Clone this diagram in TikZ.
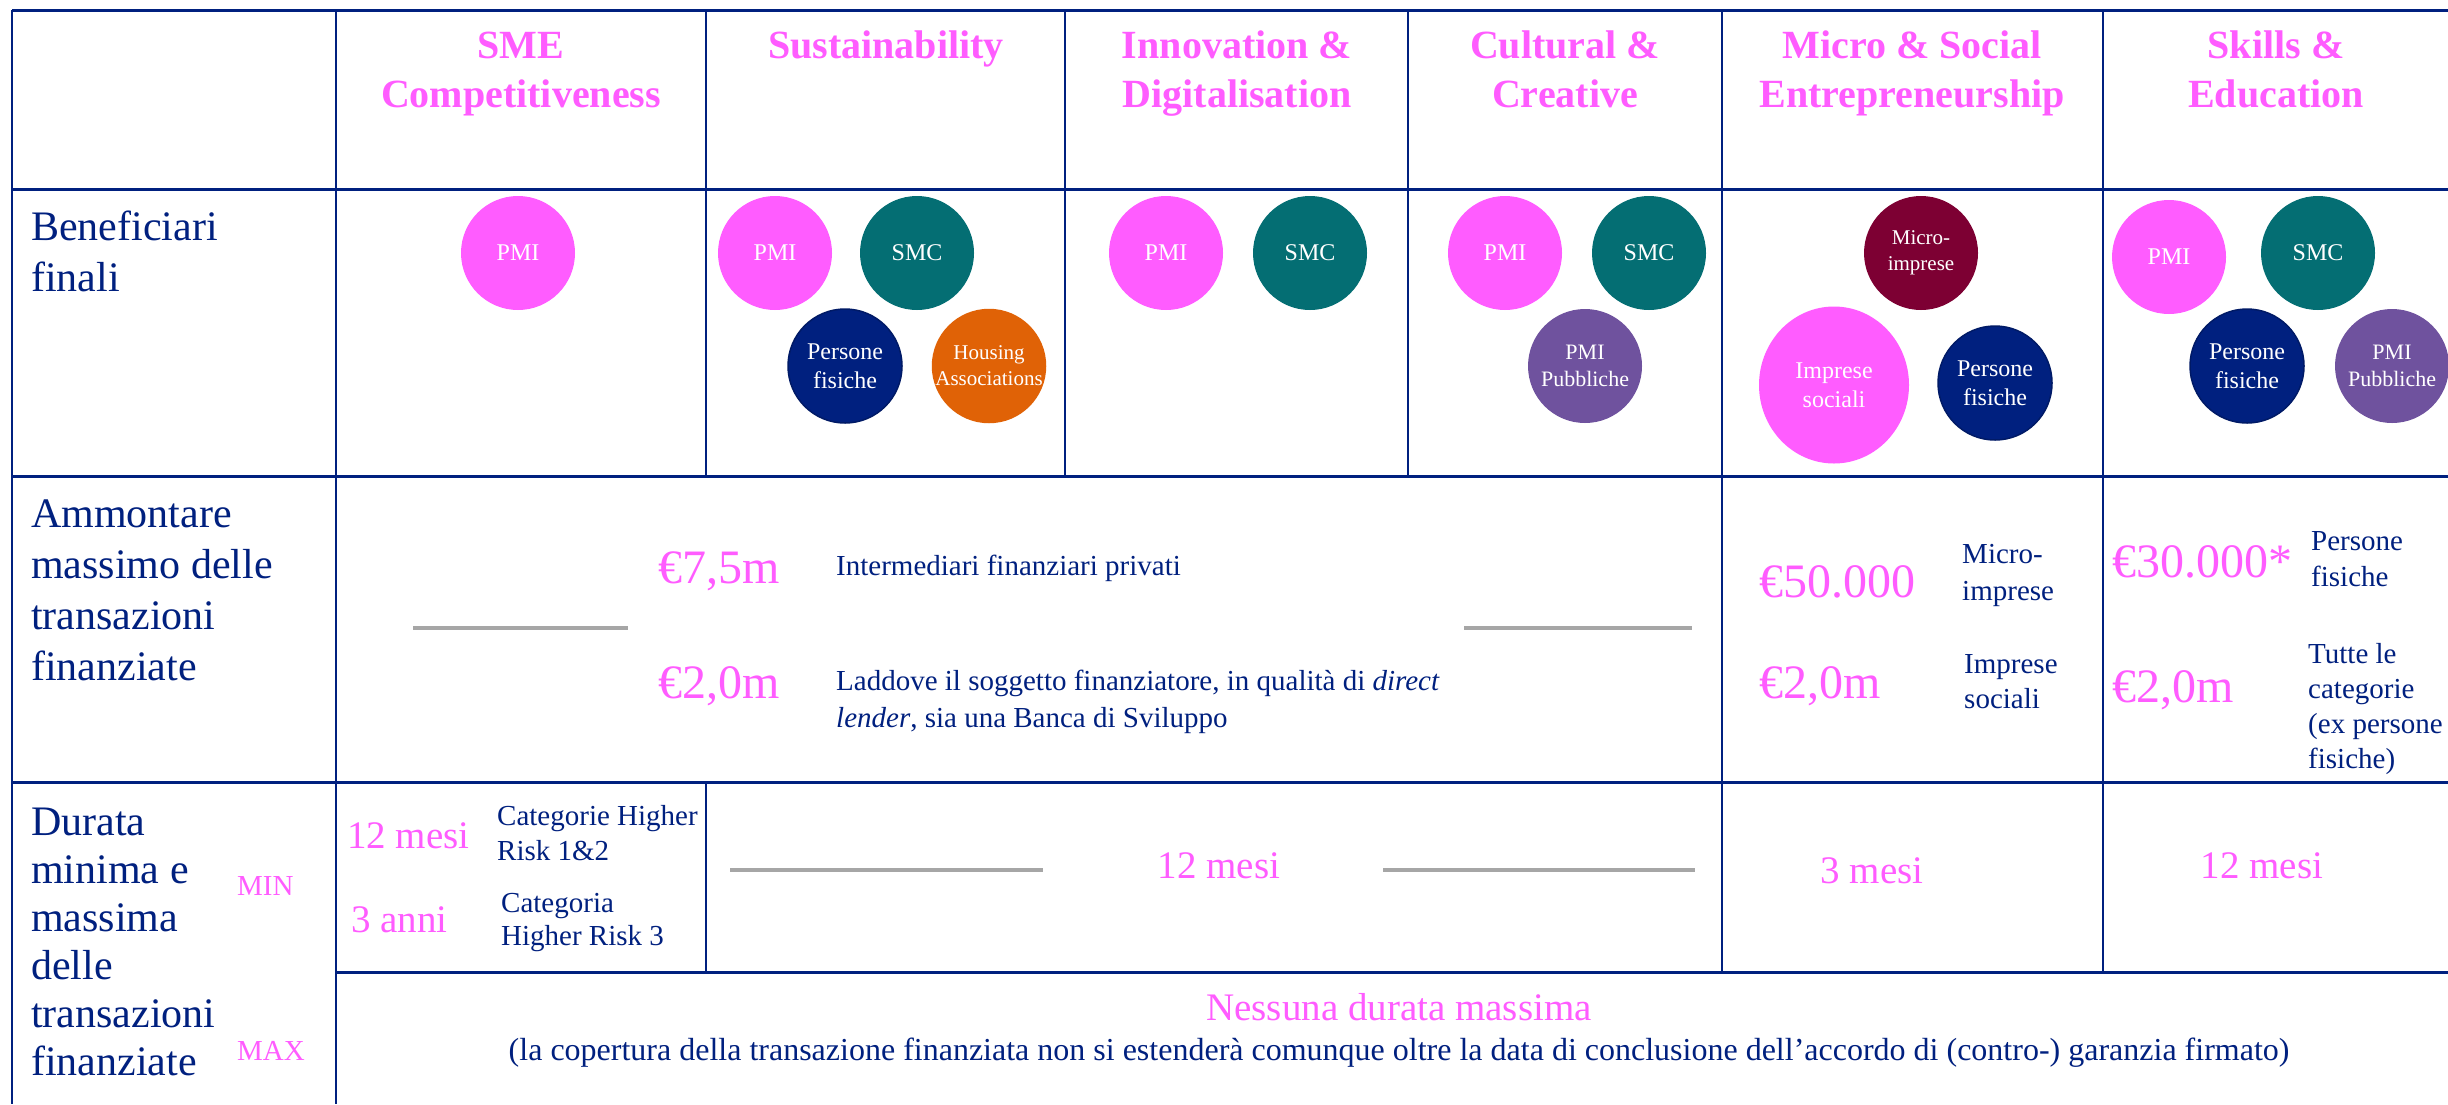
\documentclass[tikz,border=0pt]{standalone}
\usepackage{fontspec}
\setmainfont{Liberation Serif}
\usetikzlibrary{shapes.geometric}
\definecolor{navy}{HTML}{00207F}
\definecolor{navyd}{HTML}{001A66}
\definecolor{pinkc}{HTML}{FF5CFF}
\definecolor{tealc}{HTML}{046E73}
\definecolor{orangec}{HTML}{E06206}
\definecolor{purplec}{HTML}{6F529E}
\definecolor{maroonc}{HTML}{7D0033}
\definecolor{grayc}{HTML}{A6A6A6}
\tikzset{
  hline/.style={draw=navy,line width=3pt},
  vline/.style={draw=navy,line width=2.5pt},
  hdr/.style={text=pinkc,font=\fontsize{40}{49}\selectfont\bfseries,align=center,anchor=base,inner sep=0},
  lbl/.style={text=navy,font=\fontsize{42}{51}\selectfont,align=left,anchor=base west,inner sep=0},
  bub/.style={circle,minimum size=114pt,inner sep=0,text=white,align=center,font=\fontsize{24}{29}\selectfont},
  amt/.style={text=pinkc,font=\fontsize{48}{56}\selectfont,anchor=base west,inner sep=0},
  sm/.style={text=navy,font=\fontsize{29}{37}\selectfont,align=left,anchor=base west,inner sep=0},
  mid/.style={text=pinkc,font=\fontsize{39}{46}\selectfont,inner sep=0},
  tag/.style={text=pinkc,font=\fontsize{29}{35}\selectfont,anchor=base west,inner sep=0},
  dashbar/.style={draw=grayc,line width=4pt},
}
\begin{document}
\begin{tikzpicture}[x=1pt,y=-1pt]
\useasboundingbox[fill=white] (0,0) rectangle (2448,1104);
% grid
\draw[hline] (12,10) -- (2448,10);
\draw[hline] (12,189) -- (2448,189);
\draw[hline] (12,476) -- (2448,476);
\draw[hline] (12,782) -- (2448,782);
\draw[hline] (336,972) -- (2448,972);
\draw[vline] (12,10) -- (12,1104);
\draw[vline] (336,10) -- (336,1104);
\draw[vline] (706,10) -- (706,476);
\draw[vline] (706,782) -- (706,972);
\draw[vline] (1065,10) -- (1065,476);
\draw[vline] (1408,10) -- (1408,476);
\draw[vline] (1722,10) -- (1722,972);
\draw[vline] (2103,10) -- (2103,972);
% headers (base = last line baseline)
\node[hdr] (h1) at (521,107) {SME\\Competitiveness};
\node[hdr] (h2) at (886,58) {Sustainability};
\node[hdr] (h3) at (1237,107) {Innovation \&\\Digitalisation};
\node[hdr] (h4) at (1565,107) {Cultural \&\\Creative};
\node[hdr] (h5) at (1912,107) {Micro \& Social\\Entrepreneurship};
\node[hdr] (h6) at (2276,107) {Skills \&\\Education};
% row labels
\node[lbl] (r1) at (31,291) {Beneficiari\\finali};
\node[lbl] (r2) at (31,680) {Ammontare\\massimo delle\\transazioni\\finanziate};
\node[lbl,font=\fontsize{42}{48}\selectfont] (r3) at (31,1075) {Durata\\minima e\\massima\\delle\\transazioni\\finanziate};
\node[tag] (tmin) at (237,895) {MIN};
\node[tag] (tmax) at (237,1060) {MAX};
% beneficiaries
\node[bub,fill=pinkc] (b11) at (518,253) {PMI};
\node[bub,fill=pinkc] (b21) at (775,253) {PMI};
\node[bub,fill=tealc] (b22) at (917,253) {SMC};
\node[bub,fill=navy,draw=navyd,line width=1.5pt] (b23) at (845,366) {Persone\\fisiche};
\node[bub,fill=orangec,font=\fontsize{21}{26}\selectfont] (b24) at (989,366) {Housing\\Associations};
\node[bub,fill=pinkc] (b31) at (1166,253) {PMI};
\node[bub,fill=tealc] (b32) at (1310,253) {SMC};
\node[bub,fill=pinkc] (b41) at (1505,253) {PMI};
\node[bub,fill=tealc] (b42) at (1649,253) {SMC};
\node[bub,fill=purplec,font=\fontsize{22}{27}\selectfont] (b43) at (1585,366) {PMI\\Pubbliche};
\node[bub,fill=maroonc,font=\fontsize{21}{26}\selectfont] (b51) at (1921,253) {Micro-\\imprese};
\node[ellipse,minimum width=150pt,minimum height=157pt,inner sep=0,fill=pinkc,text=white,align=center,font=\fontsize{24}{29}\selectfont] (b52) at (1834,385) {Imprese\\sociali};
\node[bub,fill=navy,draw=navyd,line width=1.5pt] (b53) at (1995,383) {Persone\\fisiche};
\node[bub,fill=pinkc] (b61) at (2169,257) {PMI};
\node[bub,fill=tealc] (b62) at (2318,253) {SMC};
\node[bub,fill=navy,draw=navyd,line width=1.5pt] (b63) at (2247,366) {Persone\\fisiche};
\node[bub,fill=purplec,font=\fontsize{22}{27}\selectfont] (b64) at (2392,366) {PMI\\Pubbliche};
% amounts
\coordinate (g1a) at (413,628); \coordinate (g1b) at (628,628);
\coordinate (g2a) at (1464,628); \coordinate (g2b) at (1692,628);
\draw[dashbar] (g1a) -- (g1b);
\draw[dashbar] (g2a) -- (g2b);
\node[amt] (a1) at (658,583) {€7,5m};
\node[sm] (a1t) at (836,575) {Intermediari finanziari privati};
\node[amt] (a2) at (658,698) {€2,0m};
\node[sm] (a2t) at (836,727) {Laddove il soggetto finanziatore, in qualità di \textit{direct}\\\textit{lender}, sia una Banca di Sviluppo};
\node[amt] (a3) at (1759,597) {€50.000};
\node[sm] (a3t) at (1962,600) {Micro-\\imprese};
\node[amt] (a4) at (1759,698) {€2,0m};
\node[sm,font=\fontsize{29}{35}\selectfont] (a4t) at (1964,708) {Imprese\\sociali};
\node[amt] (a5) at (2112,577) {€30.000*};
\node[sm,font=\fontsize{29}{36}\selectfont] (a5t) at (2311,586) {Persone\\fisiche};
\node[amt] (a6) at (2112,702) {€2,0m};
\node[sm,font=\fontsize{29}{35}\selectfont] (a6t) at (2308,768) {Tutte le\\categorie\\(ex persone\\fisiche)};
% durations
\node[mid,anchor=base west] (d1) at (347,848) {12 mesi};
\node[sm,font=\fontsize{29}{35}\selectfont] (d1t) at (497,860) {Categorie Higher\\Risk 1\&2};
\node[mid,anchor=base west] (d2) at (351,932) {3 anni};
\node[sm,font=\fontsize{29}{33}\selectfont] (d2t) at (501,945) {Categoria\\Higher Risk 3};
\coordinate (g3a) at (730,870); \coordinate (g3b) at (1043,870);
\coordinate (g4a) at (1383,870); \coordinate (g4b) at (1695,870);
\draw[dashbar] (g3a) -- (g3b);
\draw[dashbar] (g4a) -- (g4b);
\node[mid,anchor=base] (d3) at (1219,878) {12 mesi};
\node[mid,anchor=base] (d4) at (1872,883) {3 mesi};
\node[mid,anchor=base] (d5) at (2262,878) {12 mesi};
\node[mid,anchor=base] (d6) at (1399,1020) {Nessuna durata massima};
\node[sm,anchor=base,font=\fontsize{32}{37}\selectfont] (d6t) at (1399,1060) {(la copertura della transazione finanziata non si estenderà comunque oltre la data di conclusione dell’accordo di (contro-) garanzia firmato)};
\end{tikzpicture}
\end{document}
